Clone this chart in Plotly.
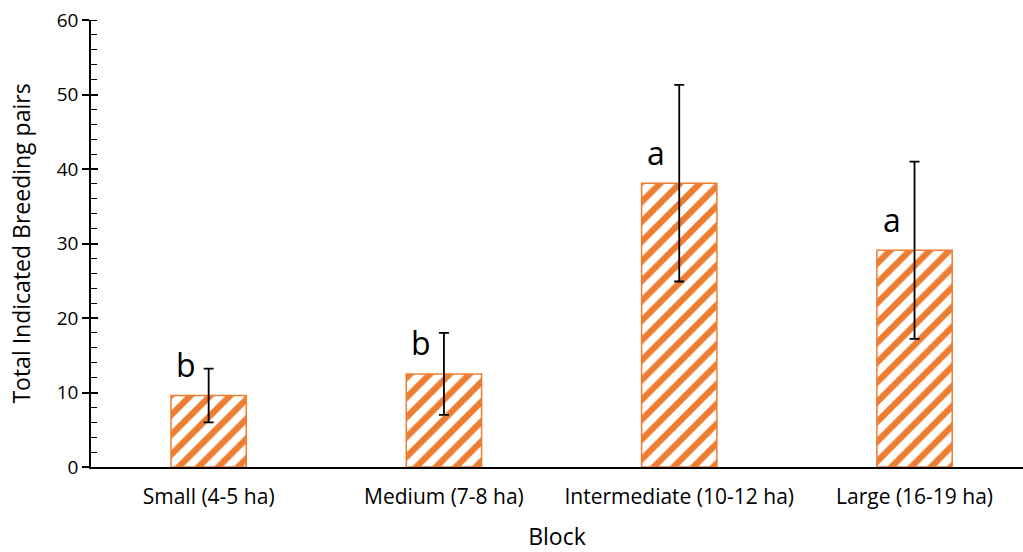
import plotly.graph_objects as go

categories = ["Small (4-5 ha)", "Medium (7-8 ha)", "Intermediate (10-12 ha)", "Large (16-19 ha)"]
values = [9.6, 12.5, 38.1, 29.1]
errors = [3.6, 5.5, 13.2, 11.9]
letters = ["b", "b", "a", "a"]
y_ticks = [0, 10, 20, 30, 40, 50, 60]

ORANGE = "#ED7D31"
FONT = "Open Sans, sans-serif"

fig = go.Figure()
fig.add_trace(go.Bar(
    x=categories, y=values,
    width=0.32,
    marker=dict(
        color="white",
        line=dict(color=ORANGE, width=1.5),
        pattern=dict(shape="/", fgcolor=ORANGE, bgcolor="white", fgopacity=1,
                     size=14, solidity=0.45),
    ),
    error_y=dict(type="data", array=errors, visible=True, color="black", thickness=1.8, width=5),
    showlegend=False,
))
# dummy trace to make the overlay axis draw (inner half of major ticks)
fig.add_trace(go.Scatter(x=categories, y=values, yaxis="y2", mode="markers",
                         marker=dict(opacity=0), showlegend=False, hoverinfo="skip"))

for c, v, t in zip(categories, values, letters):
    fig.add_annotation(x=c, y=v, text=t, showarrow=False, xshift=-23, yshift=31,
                       yanchor="middle", font=dict(size=32, color="black", family=FONT))

fig.update_layout(
    width=1023, height=552,
    margin=dict(l=91, r=0, t=20, b=85),
    plot_bgcolor="white", paper_bgcolor="white",
    font=dict(family=FONT, color="black", size=20),
    xaxis=dict(
        range=[-0.5, 3.461],
        showline=True, linecolor="black", linewidth=1.5,
        ticks="", showgrid=False, ticklabelstandoff=10,
        title=dict(text="Block", font=dict(size=23), standoff=26),
        tickfont=dict(size=21),
    ),
    yaxis=dict(
        range=[0, 60], tickvals=y_ticks,
        showline=True, linecolor="black", linewidth=1.5,
        ticks="outside", ticklen=7, tickwidth=1.5, tickcolor="black",
        showgrid=False, zeroline=False,
        minor=dict(dtick=2, ticks="inside", ticklen=6, tickwidth=1.2, tickcolor="black", showgrid=False),
        title=dict(text="Total Indicated Breeding pairs", font=dict(size=23), standoff=20),
        tickfont=dict(size=19),
    ),
    yaxis2=dict(
        range=[0, 60], tickvals=y_ticks, overlaying="y", side="left",
        showline=False, ticks="inside", ticklen=7, tickwidth=1.5, tickcolor="black",
        showticklabels=False, showgrid=False, zeroline=False,
    ),
)

fig.write_html("out.html")
